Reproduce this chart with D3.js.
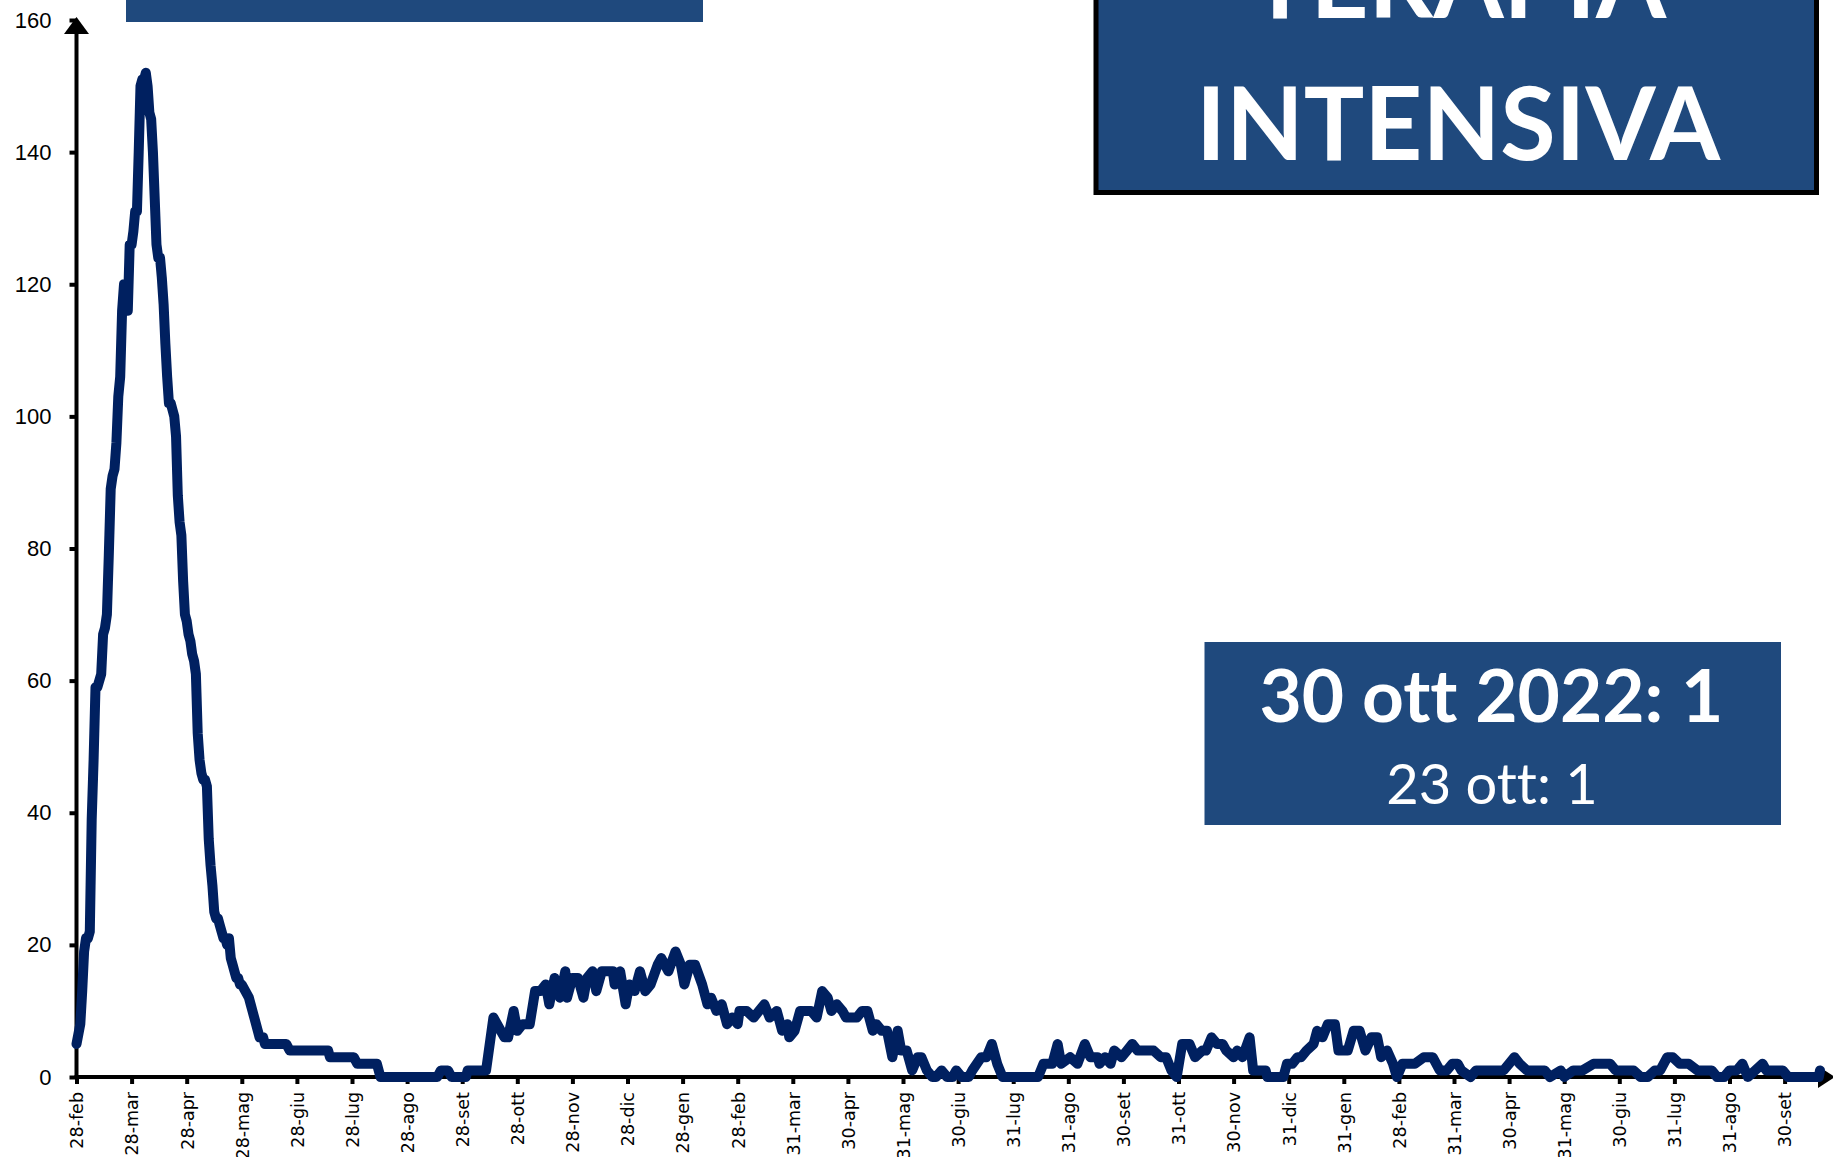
<!DOCTYPE html>
<html>
<head>
<meta charset="utf-8">
<script src="https://cdn.jsdelivr.net/npm/d3@7"></script>
<style>
  body { margin: 0; background: #fff; }
  svg { display: block; }
  text { font-variant-ligatures: none; }
</style>
</head>
<body>
<div id="chart"></div>
<script>
// x axis labels and the dates they stand for
const tickLabels = [
  "28-feb", "28-mar", "28-apr", "28-mag", "28-giu", "28-lug", "28-ago", "28-set", "28-ott", "28-nov", "28-dic",
  "28-gen", "28-feb", "31-mar", "30-apr", "31-mag", "30-giu", "31-lug", "31-ago", "30-set", "31-ott", "30-nov",
  "31-dic", "31-gen", "28-feb", "31-mar", "30-apr", "31-mag", "30-giu", "31-lug", "31-ago", "30-set"
];
const tickDates = [
  "2020-02-28", "2020-03-28", "2020-04-28", "2020-05-28", "2020-06-28", "2020-07-28", "2020-08-28", "2020-09-28",
  "2020-10-28", "2020-11-28", "2020-12-28", "2021-01-28", "2021-02-28", "2021-03-31", "2021-04-30", "2021-05-31",
  "2021-06-30", "2021-07-31", "2021-08-31", "2021-09-30", "2021-10-31", "2021-11-30", "2021-12-31", "2022-01-31",
  "2022-02-28", "2022-03-31", "2022-04-30", "2022-05-31", "2022-06-30", "2022-07-31", "2022-08-31", "2022-09-30"
];
const lastDate = "2022-10-30";

const yTicks = [0, 20, 40, 60, 80, 100, 120, 140, 160];

// patients in intensive care
const icu2020 = [
  ["02-28", 5], ["03-01", 8], ["03-02", 13], ["03-03", 19], ["03-04", 21], ["03-05", 21], ["03-06", 22],
  ["03-07", 39], ["03-08", 48], ["03-09", 59], ["03-10", 59], ["03-11", 60], ["03-12", 61], ["03-13", 67],
  ["03-14", 68], ["03-15", 70], ["03-16", 79], ["03-17", 89], ["03-18", 91], ["03-19", 92], ["03-20", 96],
  ["03-21", 103], ["03-22", 106], ["03-23", 116], ["03-24", 120], ["03-25", 120], ["03-26", 116], ["03-27", 126],
  ["03-28", 126], ["03-29", 128], ["03-30", 131], ["03-31", 131], ["04-01", 140], ["04-02", 150], ["04-03", 151],
  ["04-04", 151], ["04-05", 152], ["04-06", 150], ["04-07", 146], ["04-08", 145], ["04-09", 140], ["04-10", 133],
  ["04-11", 126], ["04-12", 124], ["04-13", 124], ["04-14", 121], ["04-15", 117], ["04-16", 111], ["04-17", 106],
  ["04-18", 102], ["04-19", 102], ["04-20", 101], ["04-21", 100], ["04-22", 97], ["04-23", 88], ["04-24", 84],
  ["04-25", 82], ["04-26", 75], ["04-27", 70], ["04-28", 69], ["04-29", 67], ["04-30", 66], ["05-01", 64],
  ["05-02", 63], ["05-03", 61], ["05-04", 52], ["05-05", 48], ["05-06", 46], ["05-07", 45], ["05-08", 45],
  ["05-09", 44], ["05-10", 36], ["05-11", 32], ["05-12", 29], ["05-13", 25], ["05-14", 24], ["05-15", 24],
  ["05-16", 23], ["05-17", 22], ["05-18", 21], ["05-19", 21], ["05-20", 20], ["05-21", 21], ["05-22", 18],
  ["05-23", 17], ["05-24", 16], ["05-25", 15], ["05-26", 15], ["05-27", 14], ["05-28", 14], ["05-30", 13],
  ["06-01", 12], ["06-02", 11], ["06-03", 10], ["06-04", 9], ["06-06", 7], ["06-07", 6], ["06-09", 6],
  ["06-10", 5], ["06-22", 5], ["06-24", 4], ["07-15", 4], ["07-16", 3], ["07-29", 3], ["07-31", 2],
  ["08-11", 2], ["08-13", 0], ["09-14", 0], ["09-16", 1], ["09-20", 1], ["09-22", 0], ["09-30", 0],
  ["10-01", 1], ["10-11", 1], ["10-15", 9], ["10-19", 7], ["10-21", 6], ["10-23", 6], ["10-26", 10],
  ["10-28", 7], ["10-31", 8], ["11-04", 8], ["11-07", 13], ["11-10", 13], ["11-13", 14], ["11-15", 11],
  ["11-18", 15], ["11-21", 12], ["11-24", 16], ["11-25", 12], ["11-28", 15], ["12-01", 15], ["12-04", 12],
  ["12-06", 15], ["12-09", 16], ["12-11", 13], ["12-14", 16], ["12-17", 16], ["12-20", 16], ["12-21", 14],
  ["12-24", 16], ["12-27", 11], ["12-29", 14]
];
const icu2021 = [
  ["01-01", 13], ["01-04", 16], ["01-07", 13], ["01-10", 14], ["01-14", 17], ["01-16", 18], ["01-20", 16],
  ["01-24", 19], ["01-27", 17], ["01-29", 14], ["02-01", 17], ["02-04", 17], ["02-08", 14], ["02-11", 11],
  ["02-13", 12], ["02-16", 10], ["02-19", 11], ["02-22", 8], ["02-25", 9], ["02-28", 8], ["03-01", 10],
  ["03-05", 10], ["03-09", 9], ["03-12", 10], ["03-15", 11], ["03-18", 9], ["03-22", 10], ["03-25", 7],
  ["03-28", 8], ["03-29", 6], ["04-01", 7], ["04-04", 10], ["04-08", 10], ["04-10", 10], ["04-13", 9],
  ["04-16", 13], ["04-19", 12], ["04-21", 10], ["04-24", 11], ["04-27", 10], ["04-29", 9], ["05-02", 9],
  ["05-05", 9], ["05-08", 10], ["05-11", 10], ["05-14", 7], ["05-16", 8], ["05-19", 7], ["05-22", 7],
  ["05-25", 3], ["05-28", 7], ["05-30", 4], ["06-02", 4], ["06-05", 1], ["06-08", 3], ["06-10", 3],
  ["06-13", 1], ["06-16", 0], ["06-18", 0], ["06-21", 1], ["06-24", 0], ["06-27", 0], ["06-29", 1],
  ["07-02", 0], ["07-06", 0], ["07-08", 1], ["07-13", 3], ["07-16", 3], ["07-19", 5], ["07-22", 2],
  ["07-25", 0], ["08-14", 0], ["08-17", 2], ["08-22", 2], ["08-25", 5], ["08-27", 2], ["09-01", 3],
  ["09-05", 2], ["09-09", 5], ["09-12", 3], ["09-16", 3], ["09-17", 2], ["09-20", 3], ["09-23", 2],
  ["09-25", 4], ["09-29", 3], ["10-02", 4], ["10-05", 5], ["10-08", 4], ["10-17", 4], ["10-21", 3],
  ["10-24", 3], ["10-27", 1], ["10-30", 0], ["11-02", 5], ["11-06", 5], ["11-09", 3], ["11-13", 4],
  ["11-15", 4], ["11-18", 6], ["11-21", 5], ["11-24", 5], ["11-26", 4], ["11-30", 3], ["12-02", 4],
  ["12-05", 3], ["12-09", 6], ["12-11", 1], ["12-14", 1], ["12-18", 1], ["12-19", 0], ["12-28", 0],
  ["12-30", 2]
];
const icu2022 = [
  ["01-02", 2], ["01-05", 3], ["01-07", 3], ["01-10", 4], ["01-14", 5], ["01-16", 7], ["01-19", 6],
  ["01-22", 8], ["01-26", 8], ["01-28", 4], ["02-02", 4], ["02-05", 7], ["02-08", 7], ["02-11", 4],
  ["02-14", 6], ["02-17", 6], ["02-19", 3], ["02-22", 4], ["02-25", 2], ["02-27", 0], ["03-02", 2],
  ["03-05", 2], ["03-09", 2], ["03-14", 3], ["03-19", 3], ["03-23", 1], ["03-27", 1], ["03-30", 2],
  ["04-02", 2], ["04-04", 1], ["04-09", 0], ["04-12", 1], ["04-17", 1], ["04-21", 1], ["04-27", 1],
  ["04-30", 2], ["05-03", 3], ["05-06", 2], ["05-10", 1], ["05-16", 1], ["05-20", 1], ["05-23", 0],
  ["05-29", 1], ["05-31", 0], ["06-05", 1], ["06-10", 1], ["06-16", 2], ["06-21", 2], ["06-25", 2],
  ["06-28", 1], ["06-30", 1], ["07-04", 1], ["07-08", 1], ["07-12", 0], ["07-16", 0], ["07-20", 1],
  ["07-23", 1], ["07-27", 3], ["07-30", 3], ["08-03", 2], ["08-08", 2], ["08-13", 1], ["08-17", 1],
  ["08-21", 1], ["08-24", 0], ["08-28", 0], ["08-31", 1], ["09-04", 1], ["09-07", 2], ["09-10", 0],
  ["09-14", 1], ["09-18", 2], ["09-20", 1], ["09-26", 1], ["09-29", 1], ["10-03", 0], ["10-29", 0],
  ["10-30", 1]
];

const titleLines = ["TERAPIA", "INTENSIVA"];
const lastValueText = "30 ott 2022: 1";
const prevValueText = "23 ott: 1";


const WIDTH = 1833,
    HEIGHT = 1157,
    X0 = 76.5,          // first tick
    STEP = 55.1,        // distance between labelled ticks
    X_END = 1820,       // where the series stops
    Y0 = 1077,
    Y_TOP = 20;

const BOX_BLUE = "#1F497D",
    LINE_BLUE = "#002060";

let parse = d3.timeParse("%Y-%m-%d");

let series = []
    .concat(icu2020.map(d => ({date: parse("2020-" + d[0]), value: d[1]})))
    .concat(icu2021.map(d => ({date: parse("2021-" + d[0]), value: d[1]})))
    .concat(icu2022.map(d => ({date: parse("2022-" + d[0]), value: d[1]})));

let ticks = tickDates.map(parse);

// the labelled ticks are evenly spaced, so the time scale is piecewise
let x = d3.scaleTime()
    .domain(ticks.concat([parse(lastDate)]))
    .range(ticks.map((d, i) => X0 + i * STEP).concat([X_END]));

let y = d3.scaleLinear()
    .domain([0, 160])
    .range([Y0, Y_TOP]);

let svg = d3.select("#chart")
    .append("svg")
    .attr("width", WIDTH)
    .attr("height", HEIGHT)
    .style("background", "#fff");

// Title box top left (only its bottom is visible)
svg.append("rect")
    .attr("x", 126)
    .attr("y", -40)
    .attr("width", 577)
    .attr("height", 62)
    .attr("fill", BOX_BLUE);

// Y axis

let yAxis = svg.append("g")
    .attr("transform", `translate(${X0},0)`)
    .call(d3.axisLeft(y).tickValues(yTicks).tickSize(7).tickSizeOuter(0).tickPadding(18).tickFormat(d3.format("d")));

yAxis.select(".domain").remove();
yAxis.selectAll(".tick line").attr("stroke", "#000").attr("stroke-width", 4);
yAxis.selectAll(".tick text")
    .attr("font-family", "'Liberation Sans', Arial, sans-serif")
    .attr("font-size", 22)
    .attr("fill", "#000");

// X axis

let xAxis = svg.append("g")
    .attr("transform", `translate(0,${Y0})`)
    .call(d3.axisBottom(x).tickValues(ticks).tickSize(7).tickSizeOuter(0).tickFormat((d, i) => tickLabels[i]));

xAxis.select(".domain").remove();
xAxis.selectAll(".tick line").attr("stroke", "#000").attr("stroke-width", 4);
xAxis.selectAll(".tick text")
    .attr("font-family", "'DejaVu Sans', Verdana, sans-serif")
    .attr("font-size", 17.5)
    .attr("fill", "#000")
    .attr("text-anchor", "end")
    .attr("transform", "rotate(-90)")
    .attr("x", -15)
    .attr("y", 0)
    .attr("dy", "0.36em");

// axis lines with arrow heads
svg.append("line")
    .attr("x1", X0).attr("y1", Y0 + 2)
    .attr("x2", X0).attr("y2", 30)
    .attr("stroke", "#000").attr("stroke-width", 4);
svg.append("path")
    .attr("d", `M${X0},17 L${X0 - 12.5},34 L${X0 + 12.5},34 Z`)
    .attr("fill", "#000");

svg.append("line")
    .attr("x1", X0 - 2).attr("y1", Y0)
    .attr("x2", 1822).attr("y2", Y0)
    .attr("stroke", "#000").attr("stroke-width", 4);
svg.append("path")
    .attr("d", `M1835,${Y0} L1818,${Y0 - 11} L1818,${Y0 + 11} Z`)
    .attr("fill", "#000");

// Draw the series

let line = d3.line()
    .x(d => x(d.date))
    .y(d => y(d.value));

svg.append("path")
    .datum(series)
    .attr("d", line)
    .attr("fill", "none")
    .attr("stroke", LINE_BLUE)
    .attr("stroke-width", 10)
    .attr("stroke-linejoin", "round")
    .attr("stroke-linecap", "round");

// Title box top right

svg.append("rect")
    .attr("x", 1096)
    .attr("y", -10)
    .attr("width", 720.5)
    .attr("height", 202.5)
    .attr("fill", BOX_BLUE)
    .attr("stroke", "#000")
    .attr("stroke-width", 5);

svg.selectAll(".title")
    .data(titleLines)
    .enter()
    .append("text")
    .classed("title", true)
    .attr("x", 1458)
    .attr("y", (d, i) => 18 + i * 142)
    .attr("text-anchor", "middle")
    .attr("font-family", "Lato, 'Open Sans', sans-serif")
    .attr("font-weight", "bold")
    .attr("font-size", 101)
    .attr("fill", "#fff")
    .text(d => d);

// Last value box

svg.append("rect")
    .attr("x", 1204.5)
    .attr("y", 642)
    .attr("width", 576.5)
    .attr("height", 183)
    .attr("fill", BOX_BLUE);

svg.append("text")
    .attr("x", 1491.5)
    .attr("y", 721.5)
    .attr("text-anchor", "middle")
    .attr("font-family", "Lato, 'Open Sans', sans-serif")
    .attr("font-weight", "bold")
    .attr("font-size", 73)
    .attr("fill", "#fff")
    .text(lastValueText);

svg.append("text")
    .attr("x", 1492)
    .attr("y", 804)
    .attr("text-anchor", "middle")
    .attr("font-family", "Lato, 'Open Sans', sans-serif")
    .attr("font-size", 56)
    .attr("fill", "#fff")
    .text(prevValueText);
</script>
</body>
</html>
